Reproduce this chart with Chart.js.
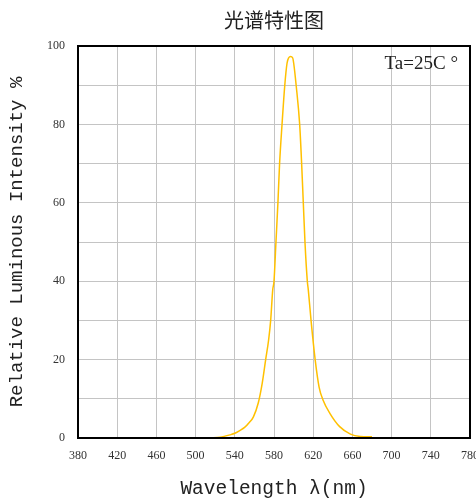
<!DOCTYPE html>
<html>
<head>
<meta charset="utf-8">
<script src="https://cdn.jsdelivr.net/npm/chart.js@4/dist/chart.umd.min.js"></script>
<style>
html,body{margin:0;padding:0;background:#fff;}
#wrap{width:476px;height:501px;position:relative;}
</style>
</head>
<body>
<div id="wrap"><canvas id="c" width="476" height="501"></canvas></div>
<script>
const chartTitle = '光谱特性图';
const xTitle = 'Wavelength λ(nm)';
const yTitle = 'Relative Luminous Intensity %';
const noteText = 'Ta=25C °';
const wavelengths = [515,525,535,540,545,550,555,559,564,568,571.5,574.5,576.6,578.7,580,582,584,585.7,588.2,591,593.3,595,597,599,600.1,602.6,606.2,608.2,609.9,611.6,614,615,617.8,622,626,630,637,647,658,668,680];
const intensity  = [0,0.2,0.8,1.2,1.9,2.7,4,5.4,9,14,20,25,30,37.8,40,50,60,70,80,90,95.6,97,97.3,97,95.6,90,80,70,60,50,40,37.8,30,20,13,9.7,6.3,2.9,1.0,0.4,0.3];
const xMin = 380, xMax = 780, xStep = 40;
const yMin = 0, yMax = 100, yStep = 10, yLabelStep = 20;

const points = wavelengths.map((w,i)=>({x:w,y:intensity[i]}));

const boxPlugin = {
  id:'box',
  afterDraw(chart){
    const {ctx, chartArea:a} = chart;
    ctx.save();
    ctx.strokeStyle = '#000';
    ctx.lineWidth = 2;
    ctx.strokeRect(a.left, a.top, a.right-a.left, a.bottom-a.top);
    ctx.font = '19px "Liberation Serif", serif';
    ctx.fillStyle = '#222';
    ctx.textAlign = 'right';
    ctx.textBaseline = 'middle';
    ctx.fillText(noteText, a.right - 12, a.top + 18);
    ctx.restore();
  }
};

new Chart(document.getElementById('c'), {
  type:'line',
  data:{datasets:[{
    data: points,
    borderColor:'#FFC000',
    borderWidth:1.5,
    pointRadius:0,
    fill:false,
    cubicInterpolationMode:'monotone'
  }]},
  options:{
    responsive:false,
    animation:false,
    layout:{padding:{left:0,right:6,top:0,bottom:0}},
    plugins:{
      legend:{display:false},
      tooltip:{enabled:false},
      title:{display:true,text:chartTitle,color:'#222',fullSize:false,
        font:{family:'"Noto Sans CJK SC", sans-serif',size:20,weight:'normal'},
        padding:{top:8,bottom:14}}
    },
    scales:{
      x:{type:'linear',min:xMin,max:xMax,
        afterFit(s){s.height=63; s.paddingLeft=0; s.paddingRight=0;},
        ticks:{stepSize:xStep,padding:11,color:'#333',maxRotation:0,
          font:{family:'"Liberation Serif", serif',size:12}},
        grid:{color:'#c4c4c4',lineWidth:1,drawTicks:false},
        border:{display:false},
        title:{display:true,text:xTitle,color:'#222',
          font:{family:'"Liberation Mono", monospace',size:19.5},
          padding:{top:0,bottom:0}}
      },
      y:{type:'linear',min:yMin,max:yMax,
        afterFit(s){s.width=78; s.paddingTop=0; s.paddingBottom=0;},
        ticks:{stepSize:yStep,padding:13,color:'#333',
          font:{family:'"Liberation Serif", serif',size:12},
          callback:(v)=> (v % yLabelStep === 0 ? String(v) : '')},
        grid:{color:'#c4c4c4',lineWidth:1,drawTicks:false},
        border:{display:false},
        title:{display:true,text:yTitle,color:'#222',
          font:{family:'"Liberation Mono", monospace',size:19},
          padding:{top:6,bottom:0}}
      }
    }
  },
  plugins:[boxPlugin]
});
</script>
</body>
</html>
